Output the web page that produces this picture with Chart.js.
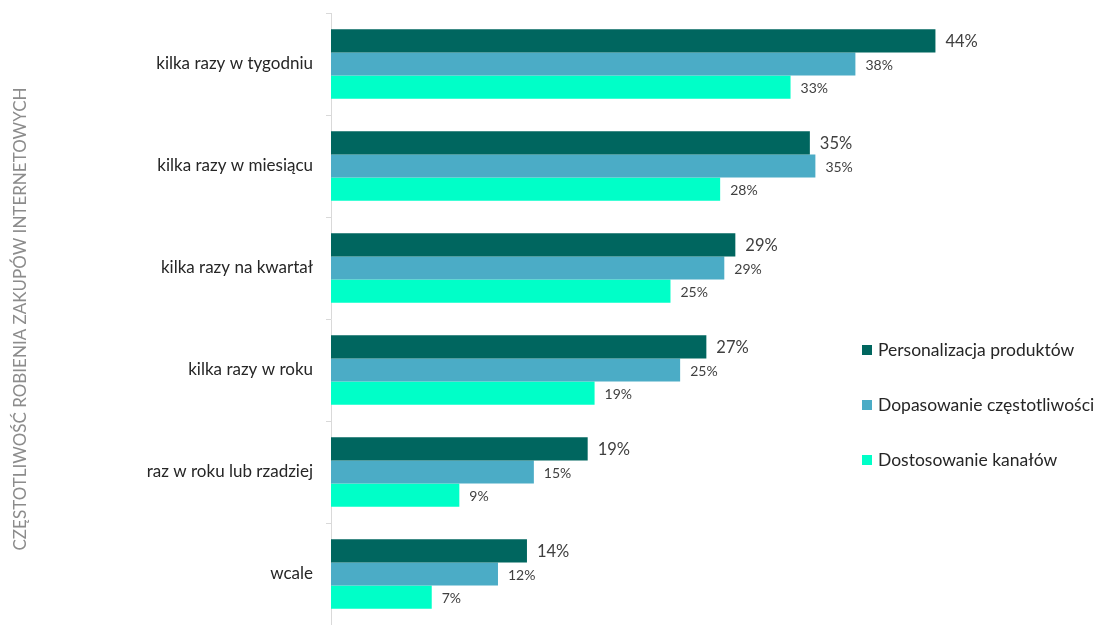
<!DOCTYPE html>
<html>
<head>
<meta charset="utf-8">
<script src="https://cdn.jsdelivr.net/npm/chart.js@4.4.1/dist/chart.umd.min.js"></script>
<style>
  html, body { margin: 0; padding: 0; background: #ffffff; }
  #wrap { width: 1094px; height: 625px; }
</style>
</head>
<body>
<div id="wrap"><canvas id="c" width="1094" height="625"></canvas></div>
<script>
const categories = [
  "kilka razy w tygodniu",
  "kilka razy w miesiącu",
  "kilka razy na kwartał",
  "kilka razy w roku",
  "raz w roku lub rzadziej",
  "wcale"
];
const seriesNames = [
  "Personalizacja produktów",
  "Dopasowanie częstotliwości",
  "Dostosowanie kanałów"
];
const personalizacja = [43.8, 34.7, 29.3, 27.2, 18.6, 14.2];
const dopasowanie    = [38.0, 35.1, 28.5, 25.3, 14.7, 12.1];
const dostosowanie   = [33.3, 28.2, 24.6, 19.1, 9.3, 7.3];
const axisTitle = "CZĘSTOTLIWOŚĆ ROBIENIA ZAKUPÓW INTERNETOWYCH";

const colors = ["#00665f", "#4bacc6", "#00ffc8"];
const FONT = "Lato, 'Open Sans', sans-serif";

const labelPlugin = {
  id: "valueLabels",
  afterDatasetsDraw(chart) {
    const ctx = chart.ctx;
    ctx.save();
    chart.data.datasets.forEach((ds, di) => {
      const meta = chart.getDatasetMeta(di);
      ctx.fillStyle = "#404040";
      ctx.font = (di === 0 ? "16.5px " : "14px ") + FONT;
      ctx.textAlign = "left";
      ctx.textBaseline = "middle";
      meta.data.forEach((bar, i) => {
        const v = ds.data[i];
        ctx.fillText(Math.round(v) + "%", bar.x + 10, bar.y + 1);
      });
    });
    ctx.restore();
  }
};

const legendPlugin = {
  id: "customLegend",
  afterDraw(chart) {
    const ctx = chart.ctx;
    ctx.save();
    ctx.font = "17.5px " + FONT;
    ctx.textBaseline = "middle";
    ctx.textAlign = "left";
    seriesNames.forEach((name, i) => {
      const y = 350 + i * 55;
      ctx.fillStyle = colors[i];
      ctx.fillRect(862, y - 5, 10, 10);
      ctx.fillStyle = "#262626";
      ctx.fillText(name, 878, y);
    });
    ctx.restore();
  }
};

new Chart(document.getElementById("c"), {
  type: "bar",
  data: {
    labels: categories,
    datasets: [
      { label: seriesNames[0], data: personalizacja, backgroundColor: colors[0] },
      { label: seriesNames[1], data: dopasowanie, backgroundColor: colors[1] },
      { label: seriesNames[2], data: dostosowanie, backgroundColor: colors[2] }
    ]
  },
  options: {
    indexAxis: "y",
    responsive: false,
    animation: false,
    layout: { padding: { top: 13, right: 73, bottom: -3, left: 0 } },
    datasets: {
      bar: {
        categoryPercentage: 0.68,
        barPercentage: 1.0,
        borderWidth: 0
      }
    },
    plugins: {
      legend: { display: false },
      tooltip: { enabled: false }
    },
    scales: {
      x: {
        display: false,
        min: 0,
        max: 50
      },
      y: {
        afterFit(scale) {
          scale.width = 331;
          scale.paddingTop = 0;
          scale.paddingBottom = 0;
        },
        grid: {
          offset: true,
          drawOnChartArea: false,
          drawTicks: true,
          tickLength: 5,
          color: "#d9d9d9"
        },
        border: { display: true, color: "#d9d9d9", width: 1 },
        ticks: {
          color: "#262626",
          padding: 13,
          font: { family: FONT, size: 17 }
        },
        title: {
          display: true,
          text: axisTitle,
          color: "#8c8c8c",
          font: { family: FONT, size: 17 },
          padding: { top: 10, bottom: 0 }
        }
      }
    }
  },
  plugins: [labelPlugin, legendPlugin]
});
</script>
</body>
</html>
